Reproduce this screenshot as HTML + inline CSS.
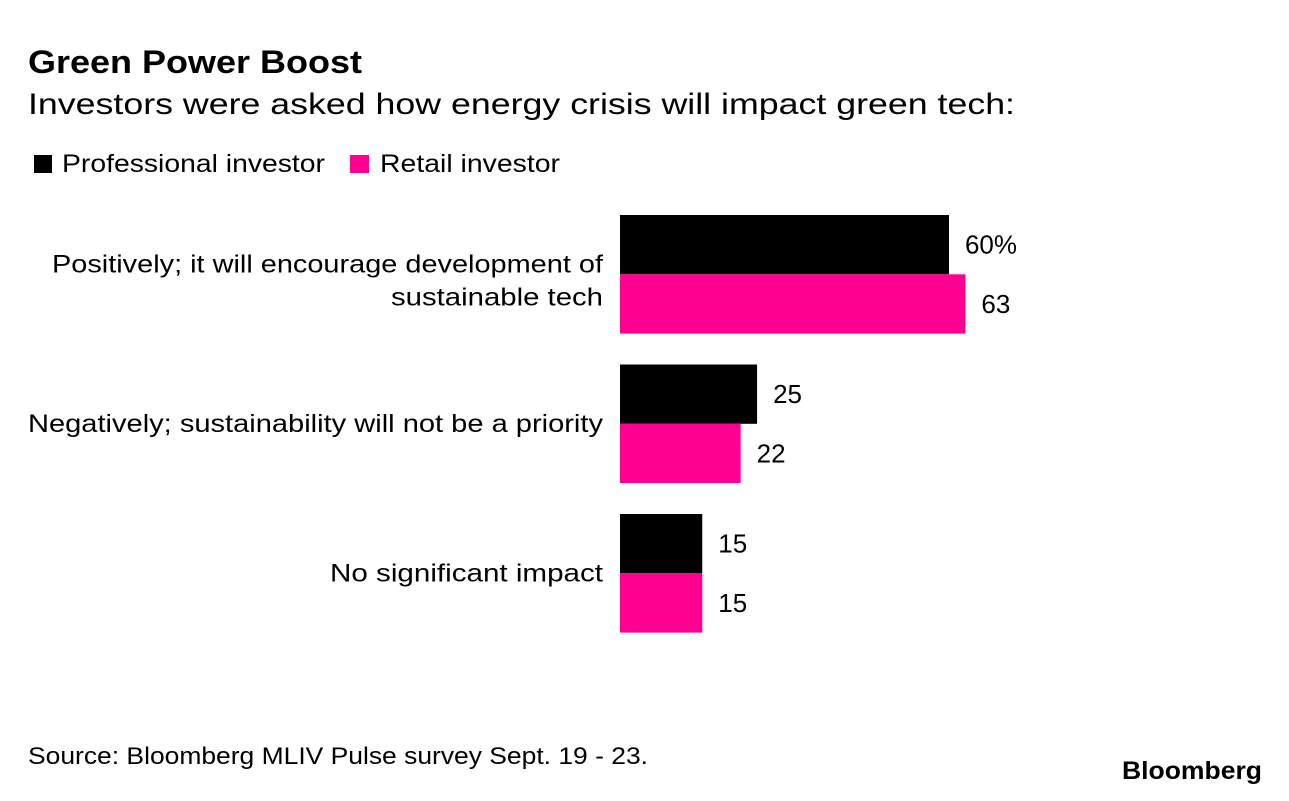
<!DOCTYPE html>
<html><head><meta charset="utf-8"><style>
body{margin:0;background:#fff;width:1289px;height:796px;overflow:hidden;font-family:"Liberation Sans",Arial,sans-serif;color:#000}
svg text{font-family:"Liberation Sans",Arial,sans-serif}
</style></head><body>
<svg width="1289" height="796">
<text x="28" y="73" font-size="32" font-weight="bold" textLength="334" lengthAdjust="spacingAndGlyphs">Green Power Boost</text>
<text x="28" y="114" font-size="30" textLength="987" lengthAdjust="spacingAndGlyphs">Investors were asked how energy crisis will impact green tech:</text>
<g>
<rect x="34" y="155" width="18" height="18" fill="#000"/>
<text x="62" y="172" font-size="25" textLength="263" lengthAdjust="spacingAndGlyphs">Professional investor</text>
<rect x="350" y="155" width="19" height="18" fill="#ff0090"/>
<text x="380" y="172" font-size="25" textLength="180" lengthAdjust="spacingAndGlyphs">Retail investor</text>
</g>
<g id="bars"></g>
<text x="28" y="764" font-size="24" textLength="620" lengthAdjust="spacingAndGlyphs">Source: Bloomberg MLIV Pulse survey Sept. 19 - 23.</text>
<text x="1122" y="779" font-size="25" font-weight="bold" textLength="140" lengthAdjust="spacingAndGlyphs">Bloomberg</text>
</svg>
<script>
const categories=[["Positively; it will encourage development of","sustainable tech"],["Negatively; sustainability will not be a priority"],["No significant impact"]];
const professional=[60,25,15];
const retail=[63,22,15];
const valueLabels=[["60%","63"],["25","22"],["15","15"]];
const labelWidths=[[551,212],[575],[273]];
const NS="http://www.w3.org/2000/svg";
const g=document.getElementById("bars");
const x0=620,ppu=5.483,top0=215,groupStep=149.5,barH=59.3;
const xs=v=>ppu*v;
function mk(tag,attrs){const e=document.createElementNS(NS,tag);for(const k in attrs)e.setAttribute(k,attrs[k]);g.appendChild(e);return e;}
categories.forEach((cat,i)=>{
  const y=top0+i*groupStep;
  [[professional,"#000","professional"],[retail,"#ff0090","retail"]].forEach((s,j)=>{
    const v=s[0][i];
    const r=mk("rect",{x:x0,y:y+j*barH,width:xs(v),height:barH,fill:s[1]});
    
    
    const t=mk("text",{x:x0+xs(v)+16,y:y+j*barH+barH/2+9,"font-size":26});
    t.textContent=valueLabels[i][j];
    
    
  });
  const cy=y+barH;
  const n=cat.length;
  cat.forEach((line,k)=>{
    const t=mk("text",{x:603,y:cy+8+k*33-(n-1)*10,"font-size":25,"text-anchor":"end",textLength:labelWidths[i][k],lengthAdjust:"spacingAndGlyphs"});
    t.textContent=line;
    
    
  });
});
</script>
</body></html>
